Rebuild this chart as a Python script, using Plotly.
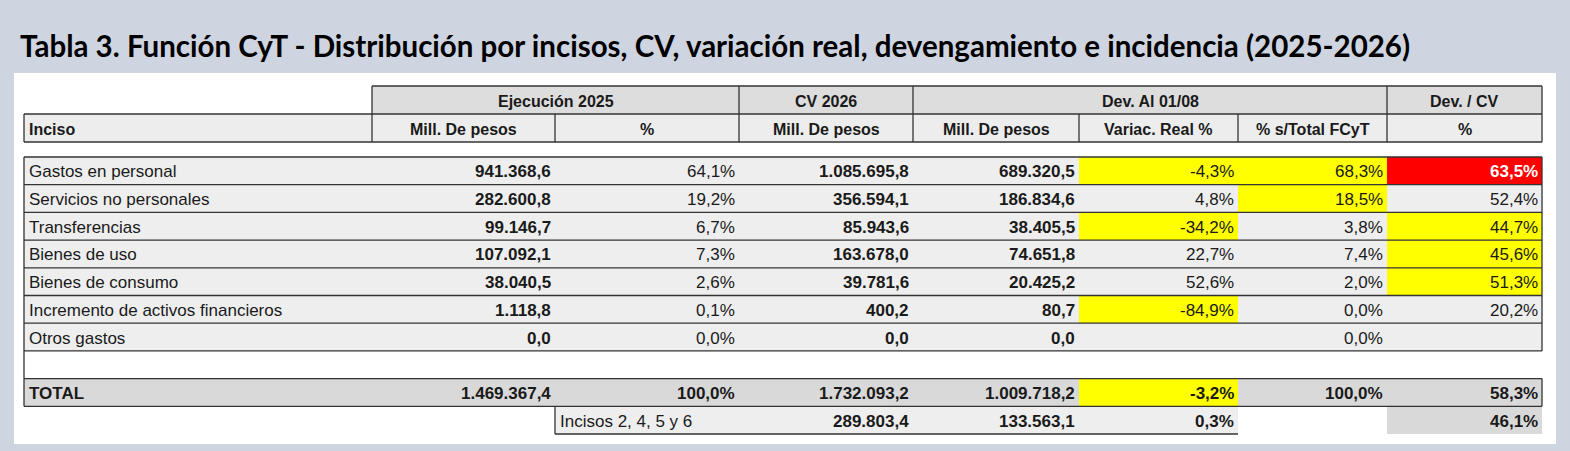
import plotly.graph_objects as go

incisos = ["Gastos en personal", "Servicios no personales", "Transferencias",
           "Bienes de uso", "Bienes de consumo",
           "Incremento de activos financieros", "Otros gastos"]
ejec_2025 = [941368.6, 282600.8, 99146.7, 107092.1, 38040.5, 1118.8, 0.0]
ejec_2025_pct = [64.1, 19.2, 6.7, 7.3, 2.6, 0.1, 0.0]
cv_2026 = [1085695.8, 356594.1, 85943.6, 163678.0, 39781.6, 400.2, 0.0]
dev_0108 = [689320.5, 186834.6, 38405.5, 74651.8, 20425.2, 80.7, 0.0]
variac_real = [-4.3, 4.8, -34.2, 22.7, 52.6, -84.9, None]
pct_total_fcyt = [68.3, 18.5, 3.8, 7.4, 2.0, 0.0, 0.0]
dev_cv = [63.5, 52.4, 44.7, 45.6, 51.3, 20.2, None]

total_row = [1469367.4, 100.0, 1732093.2, 1009718.2, -3.2, 100.0, 58.3]
sub_label = "Incisos 2, 4, 5 y 6"
sub_cv, sub_dev, sub_variac, sub_dev_cv = 289803.4, 133563.1, 0.3, 46.1

group_headers = ["Ejecución 2025", "CV 2026", "Dev. Al 01/08", "Dev. / CV"]
col_headers = ["Inciso", "Mill. De pesos", "%", "Mill. De pesos", "Mill. De pesos",
               "Variac. Real %", "% s/Total FCyT", "%"]
title = "Tabla 3. Función CyT - Distribución por incisos, CV, variación real, devengamiento e incidencia (2025-2026)"

# highlighted cells: (row, column) -> colour ; row 7 = TOTAL
highlights = {(0, 5): "#FFFF00", (0, 6): "#FFFF00", (0, 7): "#FF0000",
              (1, 6): "#FFFF00", (2, 5): "#FFFF00", (2, 7): "#FFFF00",
              (3, 7): "#FFFF00", (4, 7): "#FFFF00", (5, 5): "#FFFF00",
              (7, 5): "#FFFF00"}

# ---- layout geometry (pixel space of the picture) ----
col_x = [24, 372, 555, 739, 913, 1079, 1238, 1387, 1542]
grp_span = [(1, 3), (3, 4), (4, 7), (7, 8)]
y_grp, y_hdr, y_hdr_end = 86, 114, 142
y_data = 157
row_h = 27.7

LINE = "#333333"
TXT = "#1a1a1a"
FONT = "Liberation Sans, Arial, sans-serif"
FS = 17
FS_HDR = 16


def fmt_num(v):
    s = f"{v:,.1f}"
    return s.replace(",", "X").replace(".", ",").replace("X", ".")


def fmt_pct(v):
    if v is None:
        return ""
    return f"{v:.1f}%".replace(".", ",")


shapes = []
annotations = []


def rect(x0, x1, y0, y1, fill):
    shapes.append(dict(type="rect", xref="x", yref="y", x0=x0, x1=x1, y0=y0, y1=y1,
                       fillcolor=fill, layer="below", line=dict(width=0)))


def hline(x0, x1, y):
    shapes.append(dict(type="line", xref="x", yref="y", x0=x0, x1=x1, y0=y, y1=y,
                       line=dict(width=1.3, color=LINE)))


def vline(x, y0, y1):
    shapes.append(dict(type="line", xref="x", yref="y", x0=x, x1=x, y0=y0, y1=y1,
                       line=dict(width=1.3, color=LINE)))


def text(col, yc, s, align="right", bold=False, color=TXT, size=FS):
    if align == "right":
        x, anchor = col_x[col + 1] - 2, "right"
    elif align == "left":
        x, anchor = col_x[col] + 3, "left"
    else:
        x, anchor = (col_x[col] + col_x[col + 1]) / 2, "center"
    annotations.append(dict(x=x, y=yc, xref="x", yref="y", text=f"<b>{s}</b>" if bold else s,
                            showarrow=False, xanchor=anchor, yanchor="middle",
                            font=dict(family=FONT, size=size, color=color)))


# white panel
rect(14, 1556, 73, 444, "#FFFFFF")

# group header row
for (a, b), name in zip(grp_span, group_headers):
    rect(col_x[a], col_x[b], y_grp, y_hdr, "#DDDDDD")
    annotations.append(dict(x=(col_x[a] + col_x[b]) / 2, y=(y_grp + y_hdr) / 2 + 1, xref="x", yref="y",
                            text=f"<b>{name}</b>", showarrow=False, yanchor="middle",
                            font=dict(family=FONT, size=FS_HDR, color=TXT)))
hline(col_x[1], col_x[-1], y_grp)
for a, b in grp_span:
    vline(col_x[a], y_grp, y_hdr)
vline(col_x[-1], y_grp, y_hdr)

# column header row
for i, name in enumerate(col_headers):
    rect(col_x[i], col_x[i + 1], y_hdr, y_hdr_end, "#EDEDED")
    text(i, (y_hdr + y_hdr_end) / 2 + 1, name, align="left" if i == 0 else "center", bold=True,
         size=FS_HDR)
hline(col_x[0], col_x[-1], y_hdr)
hline(col_x[0], col_x[-1], y_hdr_end)
for x in col_x:
    vline(x, y_hdr, y_hdr_end)

# body rows
n = len(incisos)
for r in range(n):
    y0 = y_data + r * row_h
    yc = y0 + row_h / 2 + 1
    for c in range(8):
        rect(col_x[c], col_x[c + 1], y0, y0 + row_h, highlights.get((r, c), "#EEEEEE"))
    text(0, yc, incisos[r], align="left")
    text(1, yc, fmt_num(ejec_2025[r]), bold=True)
    text(2, yc, fmt_pct(ejec_2025_pct[r]))
    text(3, yc, fmt_num(cv_2026[r]), bold=True)
    text(4, yc, fmt_num(dev_0108[r]), bold=True)
    text(5, yc, fmt_pct(variac_real[r]))
    text(6, yc, fmt_pct(pct_total_fcyt[r]))
    if highlights.get((r, 7)) == "#FF0000":
        text(7, yc, fmt_pct(dev_cv[r]), bold=True, color="#FFFFFF")
    else:
        text(7, yc, fmt_pct(dev_cv[r]))
    hline(col_x[0], col_x[-1], y0)
y_body_end = y_data + n * row_h
hline(col_x[0], col_x[-1], y_body_end)
vline(col_x[0], y_data, y_body_end)
vline(col_x[-1], y_data, y_body_end)

# blank row then TOTAL
y_tot = y_body_end + row_h
vline(col_x[0], y_body_end, y_tot)
for c in range(8):
    rect(col_x[c], col_x[c + 1], y_tot, y_tot + row_h, highlights.get((7, c), "#D9D9D9"))
yc = y_tot + row_h / 2 + 1
text(0, yc, "TOTAL", align="left", bold=True)
text(1, yc, fmt_num(total_row[0]), bold=True)
text(2, yc, fmt_pct(total_row[1]), bold=True)
text(3, yc, fmt_num(total_row[2]), bold=True)
text(4, yc, fmt_num(total_row[3]), bold=True)
text(5, yc, fmt_pct(total_row[4]), bold=True)
text(6, yc, fmt_pct(total_row[5]), bold=True)
text(7, yc, fmt_pct(total_row[6]), bold=True)
hline(col_x[0], col_x[-1], y_tot)
hline(col_x[0], col_x[-1], y_tot + row_h)
vline(col_x[0], y_tot, y_tot + row_h)
vline(col_x[-1], y_tot, y_tot + row_h)

# sub-total row (incisos 2, 4, 5 y 6)
y_sub = y_tot + row_h
for c in range(2, 6):
    rect(col_x[c], col_x[c + 1], y_sub, y_sub + row_h, "#EEEEEE")
rect(col_x[7], col_x[8], y_sub, y_sub + row_h, "#D9D9D9")
yc = y_sub + row_h / 2 + 1
text(2, yc, sub_label, align="left")
text(3, yc, fmt_num(sub_cv), bold=True)
text(4, yc, fmt_num(sub_dev), bold=True)
text(5, yc, fmt_pct(sub_variac), bold=True)
text(7, yc, fmt_pct(sub_dev_cv), bold=True)
vline(col_x[2], y_sub, y_sub + row_h)
hline(col_x[2], col_x[6], y_sub + row_h)

# title
annotations.append(dict(x=18, y=45, xref="x", yref="y", text=f"<b>{title}</b>",
                        showarrow=False, xanchor="left", yanchor="middle",
                        font=dict(family="Lato, Open Sans, sans-serif", size=29.5, color="#000000")))

fig = go.Figure()
fig.add_trace(go.Scatter(x=[0, 1570], y=[0, 451], mode="markers",
                         marker=dict(opacity=0), hoverinfo="skip", showlegend=False))
fig.update_layout(
    width=1570, height=451,
    margin=dict(l=0, r=0, t=0, b=0),
    paper_bgcolor="#CFD4E1", plot_bgcolor="#CFD4E1",
    shapes=shapes, annotations=annotations,
    xaxis=dict(range=[0, 1570], visible=False, fixedrange=True),
    yaxis=dict(range=[451, 0], visible=False, fixedrange=True),
    showlegend=False,
)
fig.write_html("out.html", config={"displayModeBar": False},
               post_script="document.body.style.margin='0';document.body.style.overflow='hidden';")
